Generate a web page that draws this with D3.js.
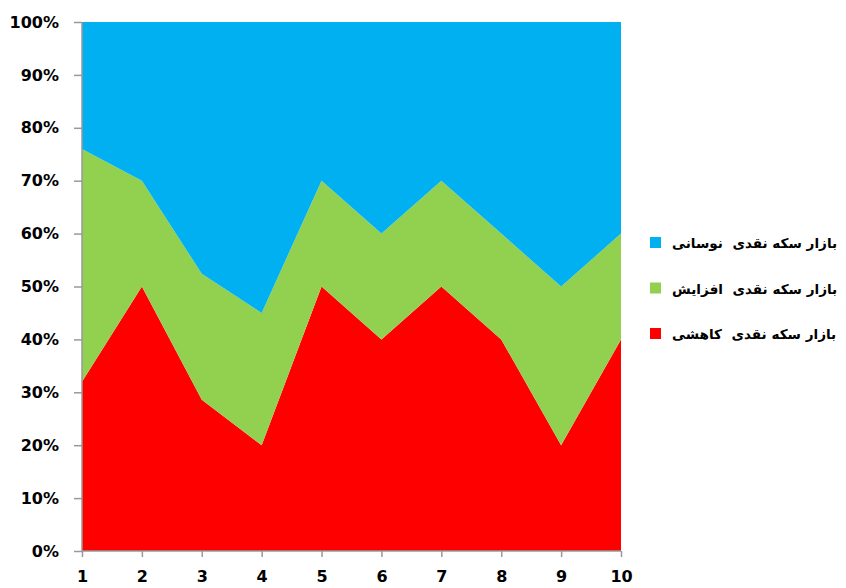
<!DOCTYPE html>
<html>
<head>
<meta charset="utf-8">
<script src="https://cdn.jsdelivr.net/npm/d3@7"></script>
<style>
  body { margin: 0; background: #fff; }
  text { font-family: "DejaVu Sans", sans-serif; font-weight: bold; fill: #000; }
</style>
</head>
<body>
<script>
// categories on the x axis
var categories = [1, 2, 3, 4, 5, 6, 7, 8, 9, 10];

// series values (share of each period, in percent)
var decreasing  = [32, 50, 28.6, 20, 50, 40, 50, 40, 20, 40];
var increasing  = [44, 20, 23.8, 25, 20, 20, 20, 20, 30, 20];
var fluctuating = [24, 30, 47.6, 55, 30, 40, 30, 40, 50, 40];

var seriesNames = ["بازار سکه نقدی  کاهشی", "بازار سکه نقدی  افزایش", "بازار سکه نقدی  نوسانی"];
var seriesKeys = ["dec", "inc", "fluc"];
var colors = ["#FF0000", "#92D050", "#00B0F0"];

var yTicks = [0, 0.1, 0.2, 0.3, 0.4, 0.5, 0.6, 0.7, 0.8, 0.9, 1];

var w = 846, h = 588;
var plotLeft = 82, plotRight = 621, plotTop = 22, plotBottom = 551;

var table = categories.map(function(c, i) {
  return { x: c, dec: decreasing[i], inc: increasing[i], fluc: fluctuating[i] };
});

var stack = d3.stack().keys(seriesKeys).offset(d3.stackOffsetExpand);
var layers = stack(table);

var xScale = d3.scaleLinear().domain([1, 10]).range([plotLeft, plotRight]);
var yScale = d3.scaleLinear().domain([0, 1]).range([plotBottom, plotTop]);

var svg = d3.select("body").append("svg")
  .attr("width", w)
  .attr("height", h);

var area = d3.area()
  .x(function(d) { return xScale(d.data.x); })
  .y0(function(d) { return yScale(d[0]); })
  .y1(function(d) { return yScale(d[1]); });

svg.selectAll("path.layer")
  .data(layers)
  .enter()
  .append("path")
  .attr("class", "layer")
  .attr("d", area)
  .attr("fill", function(d, i) { return colors[i]; });

// y axis
var yAxis = svg.append("g")
  .attr("transform", "translate(" + plotLeft + ",0)")
  .call(d3.axisLeft(yScale).tickValues(yTicks).tickFormat(d3.format(".0%")).tickSize(8).tickPadding(15));

// x axis
var xAxis = svg.append("g")
  .attr("transform", "translate(0," + plotBottom + ")")
  .call(d3.axisBottom(xScale).tickValues(categories).tickFormat(d3.format("d")).tickSize(6).tickPadding(14));

[yAxis, xAxis].forEach(function(ax) {
  ax.select(".domain").attr("stroke", "#999").attr("stroke-width", 1.5);
  ax.selectAll(".tick line").attr("stroke", "#999").attr("stroke-width", 1.5);
  ax.selectAll("text")
    .attr("fill", "#000")
    .style("font-family", "'DejaVu Sans', sans-serif")
    .style("font-weight", "bold")
    .style("font-size", "16px");
});
yAxis.select(".domain").attr("d", "M0," + plotBottom + "V" + plotTop);
xAxis.select(".domain").attr("d", "M" + plotLeft + ",0H" + plotRight);

// legend, top entry is the last series
var legendItems = [2, 1, 0];
var legend = svg.selectAll("g.legend")
  .data(legendItems)
  .enter()
  .append("g")
  .attr("class", "legend")
  .attr("transform", function(d, i) { return "translate(650," + (237 + i * 45.5) + ")"; });

legend.append("rect")
  .attr("width", 11)
  .attr("height", 11)
  .attr("fill", function(d) { return colors[d]; });

legend.append("text")
  .attr("x", 22)
  .attr("y", 11)
  .style("font-size", "13.6px")
  .style("white-space", "pre")
  .text(function(d) { return seriesNames[d]; });
</script>
</body>
</html>
